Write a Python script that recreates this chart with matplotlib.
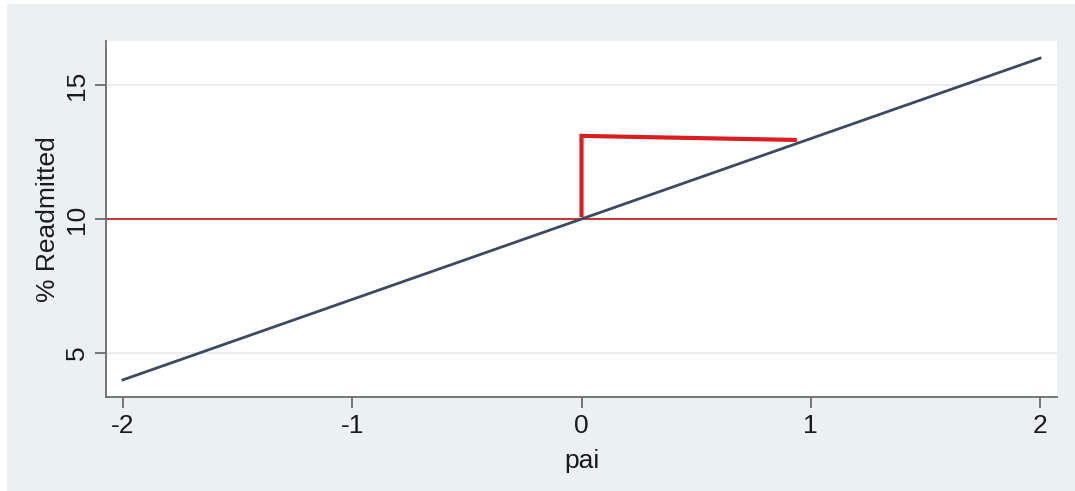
import matplotlib.pyplot as plt
from matplotlib.patches import Rectangle

# data
pai = [-2, 2]
readmitted = [4, 16]
baseline = 10
marker_x = [0, 0, 0.93]
marker_y = [10.15, 13.1, 12.95]
xticks = [-2, -1, 0, 1, 2]
yticks = [5, 10, 15]

plt.rcParams['font.family'] = ['Liberation Sans', 'DejaVu Sans']

fig = plt.figure(figsize=(10.75, 4.91), dpi=100, facecolor='white')
# light outer background (Stata-like), drawn behind the axes
bg = Rectangle((7 / 1075, -0.01), 1, 1.01 - 4 / 491, transform=fig.transFigure,
               facecolor='#ebf1f2', edgecolor='none', zorder=-10)
fig.add_artist(bg)

ax = fig.add_axes([106 / 1075, 1 - 397 / 491, (1057 - 106) / 1075, (397 - 41) / 491])
ax.set_facecolor('white')

for y in yticks:
    ax.axhline(y, color='#e6eaea', lw=1.2, zorder=1)

ax.plot(pai, readmitted, color='#3b4a5e', lw=2, zorder=3)
ax.axhline(baseline, color='#c43a3a', lw=1.5, zorder=2)
ax.plot(marker_x, marker_y, color='#d81e1e', lw=3, zorder=4, solid_joinstyle='miter')

ax.set_xlim(-2.074, 2.074)
ax.set_ylim(3.36, 16.64)
ax.set_xticks(xticks)
ax.set_yticks(yticks)
ax.set_xticklabels([str(t) for t in xticks], fontsize=19)
ax.set_yticklabels([str(t) for t in yticks], fontsize=19, rotation=90, va='center')

for s in ['top', 'right']:
    ax.spines[s].set_visible(False)
for s in ['left', 'bottom']:
    ax.spines[s].set_color('#6b6b6b')
    ax.spines[s].set_linewidth(1.3)
ax.tick_params(color='#6b6b6b', width=1.3, length=8, labelcolor='#1a1a1a', pad=4)

ax.set_xlabel('pai', fontsize=19, color='#1a1a1a', labelpad=8)
ax.set_ylabel('% Readmitted', fontsize=19, color='#1a1a1a', labelpad=4)

fig.savefig('out.png', dpi=100, facecolor=fig.get_facecolor())
